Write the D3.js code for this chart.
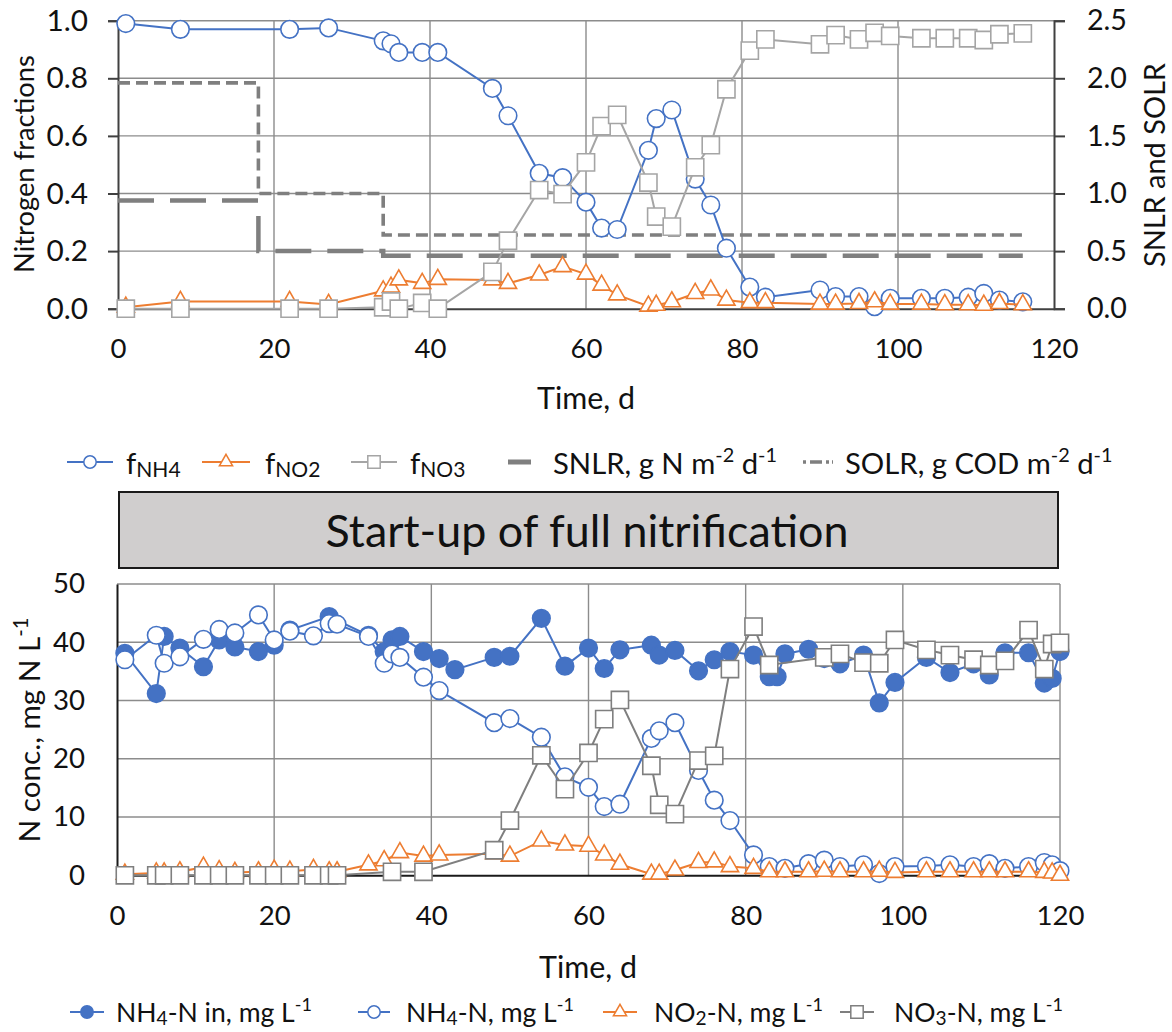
<!DOCTYPE html>
<html>
<head>
<meta charset="utf-8">
<script src="https://cdn.jsdelivr.net/npm/d3@7"></script>
<style>
  html, body { margin: 0; padding: 0; background: #fff; }
  svg { display: block; font-family: Lato, "Open Sans", sans-serif; }
</style>
</head>
<body>
<svg id="chart" width="1172" height="1032"></svg>
<script>
// ---------- Nitrogen fractions (upper panel) ----------
const fracDays = [1, 8, 22, 27, 34, 35, 36, 39, 41, 48, 50, 54, 57, 60, 62, 64, 68, 69, 71, 74, 76, 78, 81, 83, 90, 92, 95, 97, 99, 103, 106, 109, 111, 113, 116];
const fNH4 = [0.99, 0.97, 0.97, 0.975, 0.93, 0.92, 0.89, 0.89, 0.89, 0.765, 0.67, 0.47, 0.455, 0.37, 0.28, 0.275, 0.55, 0.66, 0.69, 0.45, 0.36, 0.21, 0.075, 0.04, 0.065, 0.042, 0.042, 0.007, 0.036, 0.036, 0.036, 0.04, 0.053, 0.03, 0.024];
const fNO2 = [0.005, 0.025, 0.025, 0.015, 0.062, 0.075, 0.1, 0.088, 0.102, 0.1, 0.088, 0.117, 0.146, 0.12, 0.082, 0.048, 0.009, 0.012, 0.024, 0.053, 0.065, 0.03, 0.021, 0.021, 0.016, 0.016, 0.018, 0.024, 0.016, 0.016, 0.014, 0.014, 0.012, 0.018, 0.014];
const fNO3 = [0, 0, 0, 0, 0.005, 0.025, 0, 0.02, 0, 0.128, 0.236, 0.412, 0.398, 0.508, 0.634, 0.673, 0.438, 0.32, 0.285, 0.491, 0.568, 0.762, 0.896, 0.935, 0.918, 0.95, 0.935, 0.958, 0.947, 0.939, 0.939, 0.939, 0.933, 0.953, 0.956];

// Loading rates (right axis), step changes on day 18 and day 34
const loadDays = [0, 18, 18, 34, 34, 116];
const snlr = [0.94, 0.94, 0.50, 0.50, 0.46, 0.46];
const solr = [1.96, 1.96, 1.00, 1.00, 0.64, 0.64];

const fracTicks = [0, 0.2, 0.4, 0.6, 0.8, 1.0];
const loadTicks = [0, 0.5, 1.0, 1.5, 2.0, 2.5];
const timeTicks = [0, 20, 40, 60, 80, 100, 120];

// ---------- N concentrations (lower panel) ----------
const inDays = [1, 5, 6, 8, 11, 13, 15, 18, 20, 22, 27, 32, 34, 35, 36, 39, 41, 43, 48, 50, 54, 57, 60, 62, 64, 68, 69, 71, 74, 76, 78, 81, 83, 84, 85, 88, 90, 92, 95, 97, 99, 103, 106, 109, 111, 113, 116, 118, 119, 120];
const nh4In = [38.1, 31.2, 41.0, 39.0, 35.8, 40.4, 39.2, 38.4, 39.5, 42.1, 44.4, 41.2, 38.4, 40.4, 41.0, 38.4, 37.2, 35.3, 37.4, 37.6, 44.1, 35.9, 39.0, 35.5, 38.7, 39.5, 37.8, 38.6, 35.1, 37.0, 38.4, 37.8, 34.1, 34.1, 38.0, 38.8, 37.2, 36.3, 37.8, 29.6, 33.1, 37.4, 34.8, 36.3, 34.4, 38.2, 38.2, 33.0, 33.8, 38.4];

const outDays = [1, 5, 6, 8, 11, 13, 15, 18, 20, 22, 25, 27, 28, 32, 34, 35, 36, 39, 41, 48, 50, 54, 57, 60, 62, 64, 68, 69, 71, 74, 76, 78, 81, 83, 85, 88, 90, 92, 95, 97, 99, 103, 106, 109, 111, 113, 116, 118, 119, 120];
const nh4Out = [37.0, 41.2, 36.4, 37.5, 40.5, 42.2, 41.6, 44.7, 40.4, 41.9, 41.1, 43.2, 43.1, 41.0, 36.4, 38.0, 37.4, 34.0, 31.7, 26.2, 26.9, 23.7, 16.9, 15.1, 11.8, 12.2, 23.5, 24.8, 26.2, 18.0, 12.9, 9.4, 3.5, 1.5, 1.2, 2.0, 2.6, 1.5, 1.8, 0.3, 1.5, 1.6, 1.8, 1.5, 2.0, 1.2, 1.5, 2.2, 1.8, 0.8];

const no2Days = [1, 5, 6, 8, 11, 13, 15, 18, 20, 22, 25, 27, 28, 32, 34, 36, 39, 41, 48, 50, 54, 57, 60, 62, 64, 68, 69, 71, 74, 76, 78, 81, 83, 85, 88, 90, 92, 95, 97, 99, 103, 106, 109, 111, 113, 116, 118, 119, 120];
const no2 = [0.2, 0.4, 0.4, 0.6, 1.4, 0.8, 0.5, 0.6, 0.9, 0.7, 1.0, 0.6, 0.6, 1.8, 2.5, 3.9, 3.3, 3.5, 3.7, 3.3, 5.9, 5.2, 5.0, 3.5, 1.9, 0.2, 0.2, 0.9, 2.2, 2.3, 1.5, 1.2, 0.6, 0.6, 0.6, 0.7, 0.6, 0.6, 0.7, 0.5, 0.6, 0.6, 0.6, 0.6, 0.6, 0.6, 0.5, 0.4, 0.0];

const no3Days = [1, 5, 6, 8, 11, 13, 15, 18, 20, 22, 25, 27, 28, 35, 39, 48, 50, 54, 57, 60, 62, 64, 68, 69, 71, 74, 76, 78, 81, 83, 90, 92, 95, 97, 99, 103, 106, 109, 111, 113, 116, 118, 119, 120];
const no3 = [0, 0, 0, 0, 0, 0, 0, 0, 0, 0, 0, 0, 0, 0.6, 0.6, 4.3, 9.4, 20.6, 14.8, 21.0, 26.8, 30.1, 18.8, 12.1, 10.5, 19.7, 20.5, 35.4, 42.7, 36.1, 37.4, 38.0, 36.5, 36.4, 40.4, 38.7, 37.8, 37.0, 36.1, 36.8, 42.1, 35.4, 39.7, 39.9];

const concTicks = [0, 10, 20, 30, 40, 50];

// ---------- styling ----------
const BLUE = "#4472C4", ORANGE = "#ED7D31", LGREY = "#A5A5A5", DGREY = "#7F7F7F";
const GRID = "#8C8C8C", AXIS = "#404040", TXT = "#111";

const svg = d3.select("#chart");

const zip = (xs, ys) => xs.map((x, i) => [x, ys[i]]);

// scale a text's font size so that its rendered length equals `target` px
function fit(sel, target) {
  const w = sel.node().getComputedTextLength();
  const fs = parseFloat(sel.attr("font-size"));
  const size = fs * target / w;
  sel.attr("font-size", size);
  return size;
}

// marker path generators (centred on 0,0)
function markerPath(type, s) {
  if (type === "circle") return d3.symbol(d3.symbolCircle, Math.PI * s * s)();
  if (type === "square") return `M${-s},${-s}H${s}V${s}H${-s}Z`;
  // triangle, centroid at origin
  const w = s * 2.0, h = s * 1.75;
  return `M0,${-h * 2 / 3}L${w / 2},${h / 3}L${-w / 2},${h / 3}Z`;
}

function drawSeries(g, pts, x, y, opt) {
  g.append("path")
    .datum(pts)
    .attr("fill", "none")
    .attr("stroke", opt.line)
    .attr("stroke-width", opt.lw || 2)
    .attr("d", d3.line().x(d => x(d[0])).y(d => y(d[1])));
  g.selectAll(null)
    .data(pts)
    .join("path")
    .attr("transform", d => `translate(${x(d[0])},${y(d[1])})`)
    .attr("d", markerPath(opt.shape, opt.size))
    .attr("fill", opt.fill)
    .attr("stroke", opt.stroke)
    .attr("stroke-width", 1.6);
}

// rich text: parts = [[text, "" | "sub" | "sup"], ...]
function rich(textSel, parts) {
  parts.forEach(([t, mode]) => {
    const ts = textSel.append("tspan").text(t);
    if (mode === "sub") ts.attr("baseline-shift", "-30%").attr("font-size", "72%");
    if (mode === "sup") ts.attr("baseline-shift", "42%").attr("font-size", "68%");
  });
  return textSel;
}

function styleAxis(a, domainColor, target, sample) {
  a.select(".domain").attr("stroke", domainColor).attr("stroke-width", 2);
  a.selectAll(".tick line").attr("stroke", domainColor).attr("stroke-width", 2);
  const texts = a.selectAll(".tick text").attr("fill", TXT).attr("font-size", 28).attr("font-family", "Lato");
  const s = texts.filter(d => d === sample);
  const size = fit(s, target);
  texts.attr("font-size", size);
}

// ================= upper panel =================
const x1 = d3.scaleLinear().domain([0, 120]).range([118, 1054]);
const yL = d3.scaleLinear().domain([0, 1]).range([308.7, 20.7]);
const yR = d3.scaleLinear().domain([0, 2.5]).range([308.7, 20.7]);

const gTop = svg.append("g");

// gridlines
gTop.append("g").selectAll("line").data(fracTicks.filter(t => t > 0)).join("line")
  .attr("x1", x1(0)).attr("x2", x1(120))
  .attr("y1", d => yL(d)).attr("y2", d => yL(d))
  .attr("stroke", GRID).attr("stroke-width", 1.4);
gTop.append("g").selectAll("line").data(timeTicks.filter(t => t > 0 && t < 120)).join("line")
  .attr("x1", d => x1(d)).attr("x2", d => x1(d))
  .attr("y1", yL(0)).attr("y2", yL(1))
  .attr("stroke", GRID).attr("stroke-width", 1.4);

// axes
const axL = gTop.append("g").attr("transform", `translate(${x1(0)},0)`)
  .call(d3.axisLeft(yL).tickValues(fracTicks).tickFormat(d3.format(".1f")).tickSize(10).tickPadding(20));
const axR = gTop.append("g").attr("transform", `translate(${x1(120)},0)`)
  .call(d3.axisRight(yR).tickValues(loadTicks).tickFormat(d3.format(".1f")).tickSize(11).tickPadding(22));
const axB = gTop.append("g").attr("transform", `translate(0,${yL(0)})`)
  .call(d3.axisBottom(x1).tickValues(timeTicks).tickFormat(d3.format("d")).tickSize(0).tickPadding(30));
styleAxis(axL, AXIS, 41.5, 0);
styleAxis(axR, AXIS, 40, 2.5);
styleAxis(axB, AXIS, 48, 100);

// loading rate step lines
const loadLine = d3.line().x(d => x1(d[0])).y(d => yR(d[1]));
gTop.append("path").datum(zip(loadDays, snlr))
  .attr("fill", "none").attr("stroke", DGREY).attr("stroke-width", 4.5)
  .attr("stroke-dasharray", "36 16").attr("d", loadLine);
gTop.append("path").datum(zip(loadDays, solr))
  .attr("fill", "none").attr("stroke", DGREY).attr("stroke-width", 3.6)
  .attr("stroke-dasharray", "12 6").attr("d", loadLine);

drawSeries(gTop, zip(fracDays, fNH4), x1, yL, { line: BLUE, shape: "circle", size: 8.8, fill: "#fff", stroke: BLUE });
drawSeries(gTop, zip(fracDays, fNO2), x1, yL, { line: ORANGE, shape: "triangle", size: 8.6, fill: "#fff", stroke: ORANGE });
drawSeries(gTop, zip(fracDays, fNO3), x1, yL, { line: LGREY, shape: "square", size: 8.6, fill: "#fff", stroke: LGREY });

// axis titles
fit(gTop.append("text").attr("transform", `translate(23,164) rotate(-90)`)
  .attr("text-anchor", "middle").attr("dominant-baseline", "central")
  .attr("font-size", 28).attr("fill", TXT).text("Nitrogen fractions"), 218);
fit(gTop.append("text").attr("transform", `translate(1153,165) rotate(-90)`)
  .attr("text-anchor", "middle").attr("dominant-baseline", "central")
  .attr("font-size", 28).attr("fill", TXT).text("SNLR and SOLR"), 204);
fit(gTop.append("text").attr("x", 586).attr("y", 397)
  .attr("text-anchor", "middle").attr("dominant-baseline", "central")
  .attr("font-size", 28).attr("fill", TXT).text("Time, d"), 98);

// legend (upper)
const leg1 = svg.append("g").attr("fill", TXT);
const leg1Y = 462;
function legendMarker(g, y0, x0, len, opt) {
  g.append("line").attr("x1", x0).attr("x2", x0 + len).attr("y1", y0).attr("y2", y0)
    .attr("stroke", opt.line).attr("stroke-width", 2);
  g.append("path").attr("transform", `translate(${x0 + len / 2},${y0})`)
    .attr("d", markerPath(opt.shape, opt.size))
    .attr("fill", opt.fill).attr("stroke", opt.stroke).attr("stroke-width", 1.5);
}
const legText = (g, x, y) => g.append("text").attr("x", x).attr("y", y)
  .attr("dominant-baseline", "central").attr("font-size", 26);

legendMarker(leg1, leg1Y, 67, 46, { line: BLUE, shape: "circle", size: 6.2, fill: "#fff", stroke: BLUE });
const l1a = rich(legText(leg1, 126, leg1Y), [["f", ""], ["NH4", "sub"]]);
legendMarker(leg1, leg1Y, 202, 48, { line: ORANGE, shape: "triangle", size: 6.6, fill: "#fff", stroke: ORANGE });
const l1b = rich(legText(leg1, 265, leg1Y), [["f", ""], ["NO2", "sub"]]);
legendMarker(leg1, leg1Y, 351, 46, { line: LGREY, shape: "square", size: 6.2, fill: "#fff", stroke: LGREY });
const l1c = rich(legText(leg1, 410, leg1Y), [["f", ""], ["NO3", "sub"]]);
leg1.append("line").attr("x1", 508).attr("x2", 531).attr("y1", leg1Y).attr("y2", leg1Y)
  .attr("stroke", DGREY).attr("stroke-width", 5);
const l1d = rich(legText(leg1, 553, leg1Y), [["SNLR, g N m", ""], ["-2", "sup"], [" d", ""], ["-1", "sup"]]);
leg1.append("line").attr("x1", 803).attr("x2", 833).attr("y1", leg1Y).attr("y2", leg1Y)
  .attr("stroke", DGREY).attr("stroke-width", 3.6).attr("stroke-dasharray", "3 4 12 4 3");
const l1e = rich(legText(leg1, 845, leg1Y), [["SOLR, g COD m", ""], ["-2", "sup"], [" d", ""], ["-1", "sup"]]);
const leg1Size = fit(l1d, 224);
[l1a, l1b, l1c, l1e].forEach(t => t.attr("font-size", leg1Size));

// ================= phase banner =================
svg.append("rect").attr("x", 119).attr("y", 492).attr("width", 939).attr("height", 76)
  .attr("fill", "#D0CECE").attr("stroke", "#1a1a1a").attr("stroke-width", 2);
fit(svg.append("text").attr("x", 587).attr("y", 530)
  .attr("text-anchor", "middle").attr("dominant-baseline", "central")
  .attr("font-size", 38).attr("fill", TXT).text("Start-up of full nitrification"), 523);

// ================= lower panel =================
const x2 = d3.scaleLinear().domain([0, 120]).range([117, 1060]);
const y2 = d3.scaleLinear().domain([0, 50]).range([875.3, 584]);
const gBot = svg.append("g");

gBot.append("g").selectAll("line").data(concTicks.filter(t => t > 0)).join("line")
  .attr("x1", x2(0)).attr("x2", x2(120))
  .attr("y1", d => y2(d)).attr("y2", d => y2(d))
  .attr("stroke", GRID).attr("stroke-width", 1.4);
gBot.append("g").selectAll("line").data(timeTicks.filter(t => t > 0)).join("line")
  .attr("x1", d => x2(d)).attr("x2", d => x2(d))
  .attr("y1", y2(0)).attr("y2", y2(50))
  .attr("stroke", GRID).attr("stroke-width", 1.4);

const bL = gBot.append("g").attr("transform", `translate(${x2(0)},0)`)
  .call(d3.axisLeft(y2).tickValues(concTicks).tickFormat(d3.format("d")).tickSize(0).tickPadding(32));
const bB = gBot.append("g").attr("transform", `translate(0,${y2(0)})`)
  .call(d3.axisBottom(x2).tickValues(timeTicks).tickFormat(d3.format("d")).tickSize(0).tickPadding(30));
styleAxis(bL, "#1a1a1a", 32, 50);
styleAxis(bB, "#1a1a1a", 48, 100);

drawSeries(gBot, zip(inDays, nh4In), x2, y2, { line: BLUE, shape: "circle", size: 8.8, fill: BLUE, stroke: BLUE });
drawSeries(gBot, zip(outDays, nh4Out), x2, y2, { line: BLUE, shape: "circle", size: 8.8, fill: "#fff", stroke: BLUE });
drawSeries(gBot, zip(no2Days, no2), x2, y2, { line: ORANGE, shape: "triangle", size: 8.6, fill: "#fff", stroke: ORANGE });
drawSeries(gBot, zip(no3Days, no3), x2, y2, { line: DGREY, shape: "square", size: 8.6, fill: "#fff", stroke: DGREY });

fit(rich(gBot.append("text").attr("transform", `translate(28,730) rotate(-90)`)
  .attr("text-anchor", "middle").attr("dominant-baseline", "central")
  .attr("font-size", 28).attr("fill", TXT), [["N conc., mg N L", ""], ["-1", "sup"]]), 225);
fit(gBot.append("text").attr("x", 588).attr("y", 966)
  .attr("text-anchor", "middle").attr("dominant-baseline", "central")
  .attr("font-size", 28).attr("fill", TXT).text("Time, d"), 98);

// legend (lower)
const leg2 = svg.append("g").attr("fill", TXT);
const leg2Y = 1012;
legendMarker(leg2, leg2Y, 70, 34, { line: BLUE, shape: "circle", size: 6.2, fill: BLUE, stroke: BLUE });
const l2a = rich(legText(leg2, 116, leg2Y), [["NH", ""], ["4", "sub"], ["-N in, mg L", ""], ["-1", "sup"]]);
legendMarker(leg2, leg2Y, 358, 32, { line: BLUE, shape: "circle", size: 6.2, fill: "#fff", stroke: BLUE });
const l2b = rich(legText(leg2, 406, leg2Y), [["NH", ""], ["4", "sub"], ["-N, mg L", ""], ["-1", "sup"]]);
legendMarker(leg2, leg2Y, 603, 34, { line: ORANGE, shape: "triangle", size: 6.6, fill: "#fff", stroke: ORANGE });
const l2c = rich(legText(leg2, 654, leg2Y), [["NO", ""], ["2", "sub"], ["-N, mg L", ""], ["-1", "sup"]]);
legendMarker(leg2, leg2Y, 840, 34, { line: DGREY, shape: "square", size: 6.2, fill: "#fff", stroke: DGREY });
const l2d = rich(legText(leg2, 894, leg2Y), [["NO", ""], ["3", "sub"], ["-N, mg L", ""], ["-1", "sup"]]);
const leg2Size = fit(l2a, 196);
[l2b, l2c, l2d].forEach(t => t.attr("font-size", leg2Size));
</script>
</body>
</html>
